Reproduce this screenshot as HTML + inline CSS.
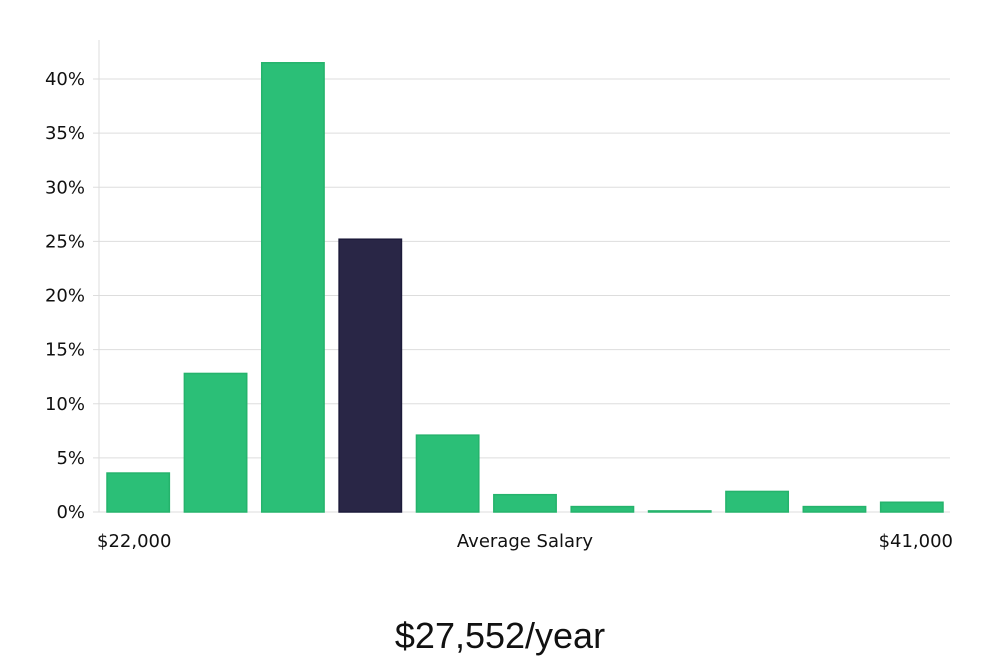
<!DOCTYPE html>
<html><head><meta charset="utf-8"><style>
body{margin:0;background:#fff;width:1000px;height:660px;overflow:hidden;font-family:"DejaVu Sans","Liberation Sans",sans-serif}
</style></head><body>
<svg id="chart" width="1000" height="660" xmlns="http://www.w3.org/2000/svg">
<g id="grid"></g>
<g id="yaxis"></g>
<g id="bars"></g>
<text x="97" y="547" font-size="18" fill="#111">$22,000</text>
<text x="525" y="547" font-size="18" fill="#111" text-anchor="middle">Average Salary</text>
<text x="953" y="547" font-size="18" fill="#111" text-anchor="end">$41,000</text>
<text x="500" y="648" font-size="36" fill="#111" text-anchor="middle" font-family="'Liberation Sans',sans-serif" font-weight="300">$27,552/year</text>
</svg>
<script>
const categories=["b1","b2","b3","b4","b5","b6","b7","b8","b9","b10","b11"];
const values=[3.6,12.8,41.5,25.2,7.1,1.6,0.5,0.1,1.9,0.5,0.9];
const highlight=[false,false,false,true,false,false,false,false,false,false,false];
const yTicks=[0,5,10,15,20,25,30,35,40];
const yTickLabels=["0%","5%","10%","15%","20%","25%","30%","35%","40%"];
const NS="http://www.w3.org/2000/svg";
const x0=99,x1=950,yBase=512,pxPer=10.825;
const y=v=>yBase-v*pxPer;
const step=(x1-x0)/categories.length;
const g=document.getElementById('grid'),ya=document.getElementById('yaxis'),b=document.getElementById('bars');
function mk(t,a){const e=document.createElementNS(NS,t);for(const k in a)e.setAttribute(k,a[k]);return e;}
const ax=mk('line',{x1:x0,x2:x0,y1:40,y2:yBase,stroke:'#ddd'});


ya.appendChild(ax);
yTicks.forEach((t,i)=>{
 const l=mk('line',{x1:x0-6,x2:x1,y1:y(t),y2:y(t),stroke:'#ddd'});
 
 
 g.appendChild(l);
 const tx=mk('text',{x:85,y:y(t)+6,'font-size':18,fill:'#111','text-anchor':'end'});
 tx.textContent=yTickLabels[i];
 
 
 ya.appendChild(tx);
});
values.forEach((v,i)=>{
 const r=mk('rect',{x:x0+i*step+8,y:y(v),width:step-15,height:v*pxPer,
  fill:highlight[i]?'#292646':'#2bbf77',stroke:highlight[i]?'#1c1a3a':'#25b36c','stroke-width':1.5});
 
 
 b.appendChild(r);
});
</script>
</body></html>
